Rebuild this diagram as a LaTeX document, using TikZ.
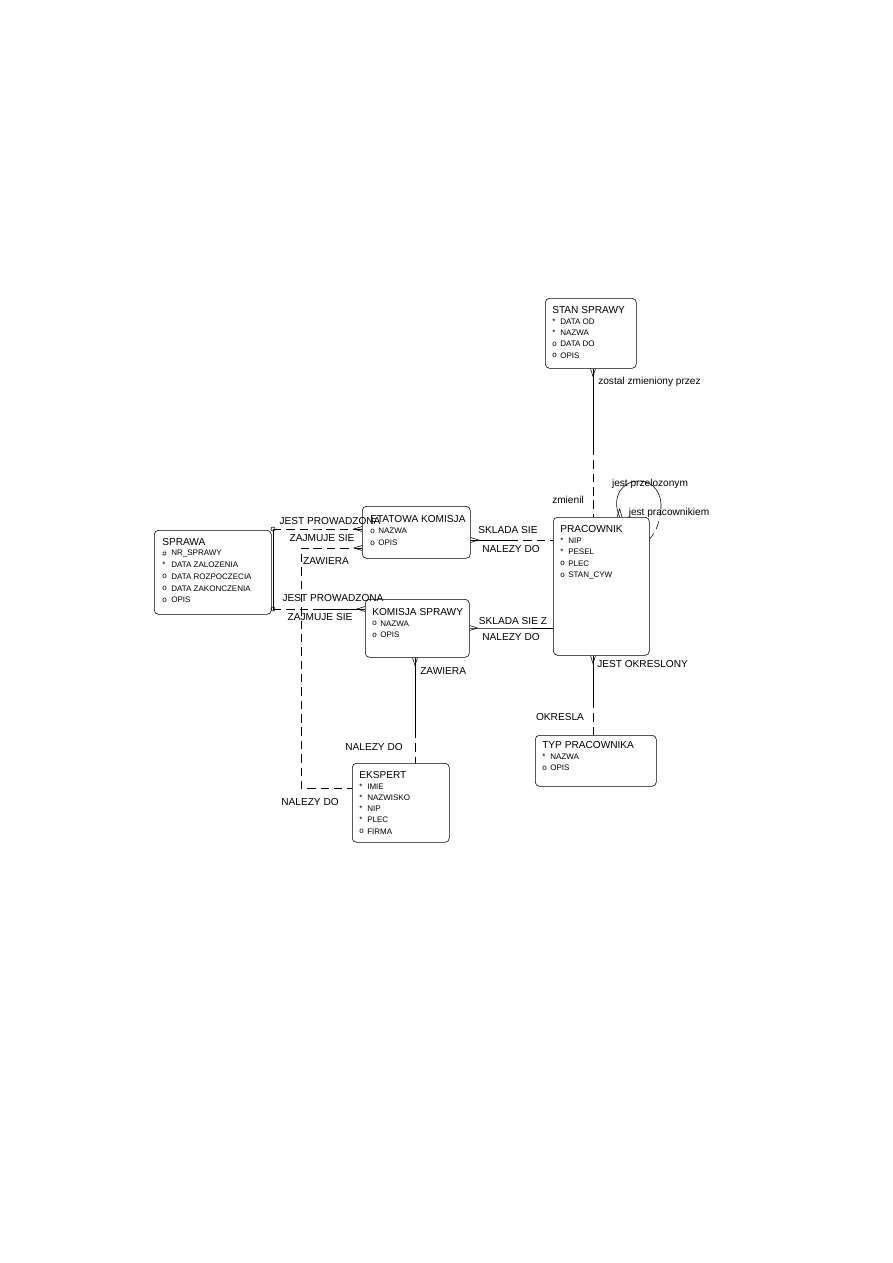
\documentclass[tikz,border=0pt]{standalone}
\usepackage{fontspec}
\setmainfont{Liberation Sans}
\usetikzlibrary{calc}

\tikzset{
  ent/.style={draw, rounded corners=3pt, anchor=north west, inner sep=0pt},
  ttl/.style={anchor=west, inner sep=0pt, font=\fontsize{7.2}{8}\selectfont},
  att/.style={anchor=west, inner sep=0pt, font=\fontsize{5.7}{6}\selectfont},
  lbl/.style={inner sep=0pt, font=\fontsize{7.2}{8}\selectfont},
  opt/.style={dash pattern=on 6pt off 3.5pt}
}
% crow's foot at point #1, pointing away from the entity along (#2,#3)
\newcommand{\crowfoot}[3]{\draw ($(#1)+({2.5*(#3)},{-2.5*(#2)})$) -- ($(#1)+({8*(#2)},{8*(#3)})$) -- ($(#1)+({-2.5*(#3)},{2.5*(#2)})$);}

\begin{document}
\begin{tikzpicture}[x=0.025cm, y=-0.025cm, thin]
  \useasboundingbox (0,0) rectangle (893,1263);

  % entities
  \node[ent, minimum width=2.275cm, minimum height=1.75cm] (stan) at (545,298) {};
  \node[ent, minimum width=2.925cm, minimum height=2.1cm] (sprawa) at (154,530) {};
  \node[ent, minimum width=2.7cm, minimum height=1.3cm] (etat) at (362,506) {};
  \node[ent, minimum width=2.4cm, minimum height=3.45cm] (prac) at (553,517) {};
  \node[ent, minimum width=2.6cm, minimum height=1.45cm] (komspr) at (365,599) {};
  \node[ent, minimum width=2.425cm, minimum height=1.975cm] (eksp) at (352,763) {};
  \node[ent, minimum width=3.025cm, minimum height=1.275cm] (typ) at (535,735) {};

  \node[ttl] (stan-t) at ($(stan.north west)+(7,12.5)$) {STAN SPRAWY};
  \foreach \s/\a [count=\i] in {*/DATA OD, */NAZWA, o/DATA DO, o/OPIS} {
    \node[att] (stan-s\i) at ($(stan.north west)+(7,12+11.4*\i)$) {\s};
    \node[att] (stan-a\i) at ($(stan.north west)+(15,12+11.4*\i)$) {\a};
  }
  \node[ttl] (sprawa-t) at ($(sprawa.north west)+(8,12.5)$) {SPRAWA};
  \foreach \s/\a [count=\i] in {\#/NR\_SPRAWY, */DATA ZALOZENIA, o/DATA ROZPOCZECIA, o/DATA ZAKONCZENIA, o/OPIS} {
    \node[att] (sprawa-s\i) at ($(sprawa.north west)+(8,12+11.6*\i)$) {\s};
    \node[att] (sprawa-a\i) at ($(sprawa.north west)+(17,12+11.6*\i)$) {\a};
  }
  \node[ttl] (etat-t) at ($(etat.north west)+(8,13)$) {ETATOWA KOMISJA};
  \foreach \s/\a [count=\i] in {o/NAZWA, o/OPIS} {
    \node[att] (etat-s\i) at ($(etat.north west)+(8,13+12*\i)$) {\s};
    \node[att] (etat-a\i) at ($(etat.north west)+(16,13+12*\i)$) {\a};
  }
  \node[ttl] (prac-t) at ($(prac.north west)+(7,12)$) {PRACOWNIK};
  \foreach \s/\a [count=\i] in {*/NIP, */PESEL, o/PLEC, o/STAN\_CYW} {
    \node[att] (prac-s\i) at ($(prac.north west)+(7,12+11.5*\i)$) {\s};
    \node[att] (prac-a\i) at ($(prac.north west)+(15,12+11.5*\i)$) {\a};
  }
  \node[ttl] (komspr-t) at ($(komspr.north west)+(7,13)$) {KOMISJA SPRAWY};
  \foreach \s/\a [count=\i] in {o/NAZWA, o/OPIS} {
    \node[att] (komspr-s\i) at ($(komspr.north west)+(7,13+11.5*\i)$) {\s};
    \node[att] (komspr-a\i) at ($(komspr.north west)+(15,13+11.5*\i)$) {\a};
  }
  \node[ttl] (eksp-t) at ($(eksp.north west)+(7,12)$) {EKSPERT};
  \foreach \s/\a [count=\i] in {*/IMIE, */NAZWISKO, */NIP, */PLEC, o/FIRMA} {
    \node[att] (eksp-s\i) at ($(eksp.north west)+(7,12+11.3*\i)$) {\s};
    \node[att] (eksp-a\i) at ($(eksp.north west)+(15,12+11.3*\i)$) {\a};
  }
  \node[ttl] (typ-t) at ($(typ.north west)+(7,10.5)$) {TYP PRACOWNIKA};
  \foreach \s/\a [count=\i] in {*/NAZWA, o/OPIS} {
    \node[att] (typ-s\i) at ($(typ.north west)+(7,10.5+11.3*\i)$) {\s};
    \node[att] (typ-a\i) at ($(typ.north west)+(15,10.5+11.3*\i)$) {\a};
  }

  % split points of the relationships
  \coordinate (sp) at (593,447);
  \coordinate (ep) at (510,540);
  \coordinate (kp) at (510,628);
  \coordinate (arca) at (273,529);
  \coordinate (arcb) at (273,609);
  \coordinate (sj) at (318,529);
  \coordinate (sk) at (318,609);
  \coordinate (zk) at (301,548);
  \coordinate (zb) at (301,788);
  \coordinate (kz) at (415,730);
  \coordinate (pt) at (593,700);

  % STAN SPRAWY - PRACOWNIK
  \draw (stan.south -| sp) -- (sp);
  \draw[opt] (sp) -- (prac.north -| sp);
  \coordinate (c1) at (stan.south -| sp);
  \crowfoot{c1}{0}{1}
  \node[lbl, anchor=west] (l1) at (598,382) {zostal zmieniony przez};
  \node[lbl] (l2) at (568,500) {zmienil};

  % PRACOWNIK - PRACOWNIK
  \coordinate (c2) at ($(prac.north east)+(-30,0)$);
  \draw (c2) .. controls (611,497) and (622,481) .. (639,481) .. controls (654,481) and (662,494) .. (661,508);
  \draw[opt] (661,508) .. controls (660,522) and (656,532) .. ($(prac.north east)+(0,22)$);
  \crowfoot{c2}{0}{-1}
  \node[lbl] (l3) at (650,484) {jest przelozonym};
  \node[lbl] (l4) at (669,513) {jest pracownikiem};

  % ETATOWA KOMISJA - PRACOWNIK
  \coordinate (c3) at (etat.east |- ep);
  \draw (c3) -- (ep);
  \draw[opt] (ep) -- (prac.west |- ep);
  \crowfoot{c3}{1}{0}
  \node[lbl] (l5) at (508,530) {SKLADA SIE};
  \node[lbl] (l6) at (511,549) {NALEZY DO};

  % KOMISJA SPRAWY - PRACOWNIK
  \coordinate (c4) at (komspr.east |- kp);
  \draw (c4) -- (kp) -- (prac.west |- kp);
  \crowfoot{c4}{1}{0}
  \node[lbl] (l7) at (513,621) {SKLADA SIE Z};
  \node[lbl] (l8) at (511,637) {NALEZY DO};

  % SPRAWA - komisje (arc)
  \draw (arca) -- (arcb);
  \draw (arca) circle[radius=2];
  \draw (arcb) circle[radius=2];
  \coordinate (c5) at (etat.west |- sj);
  \draw[opt] (arca) -- (sj) -- (c5);
  \crowfoot{c5}{-1}{0}
  \node[lbl] (l9) at (330,521) {JEST PROWADZONA};
  \node[lbl] (l10) at (322,538) {ZAJMUJE SIE};
  \coordinate (c6) at (komspr.west |- sk);
  \draw[opt] (arcb) -- (sk);
  \draw (sk) -- (c6);
  \crowfoot{c6}{-1}{0}
  \node[lbl] (l11) at (333,598) {JEST PROWADZONA};
  \node[lbl] (l12) at (320,617) {ZAJMUJE SIE};

  % ETATOWA KOMISJA - EKSPERT
  \coordinate (c7) at (etat.west |- zk);
  \draw[opt] (c7) -- (zk) -- (zb) -- (eksp.west |- zb);
  \crowfoot{c7}{-1}{0}
  \node[lbl] (l13) at (326,561) {ZAWIERA};
  \node[lbl] (l14) at (310,802) {NALEZY DO};

  % KOMISJA SPRAWY - EKSPERT
  \coordinate (c8) at (komspr.south -| kz);
  \draw (c8) -- (kz);
  \draw[opt] (kz) -- (eksp.north -| kz);
  \crowfoot{c8}{0}{1}
  \node[lbl, anchor=west] (l15) at (420,671) {ZAWIERA};
  \node[lbl] (l16) at (374,747) {NALEZY DO};

  % PRACOWNIK - TYP PRACOWNIKA
  \coordinate (c9) at (prac.south -| pt);
  \draw (c9) -- (pt);
  \draw[opt] (pt) -- (typ.north -| pt);
  \crowfoot{c9}{0}{1}
  \node[lbl, anchor=west] (l17) at (597,664) {JEST OKRESLONY};
  \node[lbl] (l18) at (560,717) {OKRESLA};
\end{tikzpicture}
\end{document}
